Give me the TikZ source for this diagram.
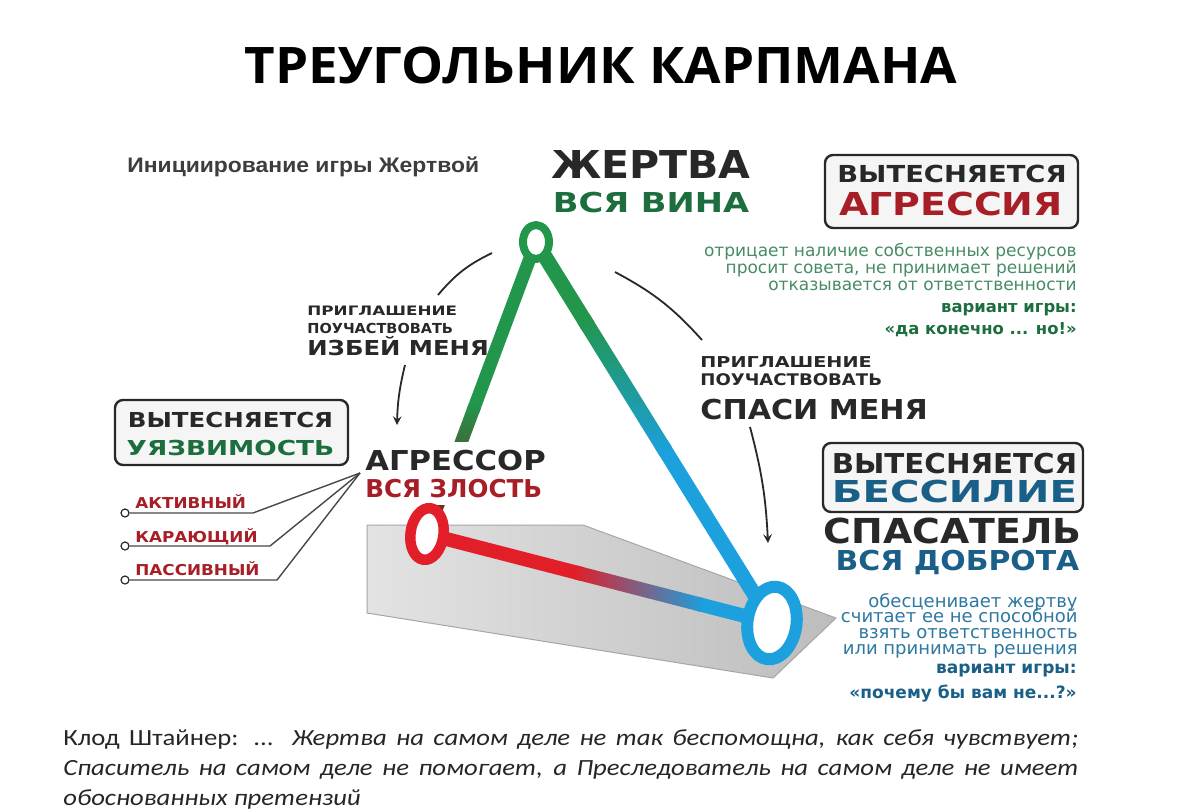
\documentclass[tikz,border=0pt]{standalone}
\usepackage{fontspec}
\setmainfont{DejaVu Sans}
\newfontfamily\headfont{DejaVu Sans}
\newfontfamily\titlefont{Open Sans}
\newfontfamily\labelfont{Liberation Sans}
\newfontfamily\quotefont[FakeStretch=1.15]{Carlito}
\usetikzlibrary{calc,shapes.geometric}

\definecolor{kgreen}{RGB}{34,150,74}
\definecolor{kdgreen}{RGB}{28,110,62}
\definecolor{ktgreen}{RGB}{72,140,100}
\definecolor{kred}{RGB}{226,30,40}
\definecolor{kdred}{RGB}{168,30,38}
\definecolor{kblue}{RGB}{28,160,222}
\definecolor{kdblue}{RGB}{25,95,135}
\definecolor{ktblue}{RGB}{45,120,160}
\definecolor{kgray}{RGB}{40,40,40}

% thick band between two points, #3 = half width
\newcommand\bandpart[4]{%
  \path[#4] ($(#1)!#3!90:(#2)$) -- ($(#1)!#3!-90:(#2)$)
    -- ($(#2)!#3!90:(#1)$) -- ($(#2)!#3!-90:(#1)$) -- cycle;}

\tikzset{
  hd/.style 2 args={inner sep=0pt, text=kgray,
    font=\headfont\bfseries\fontsize{#1}{#1}\selectfont\addfontfeature{FakeStretch=#2}},
  desc/.style={inner sep=0pt, anchor=base east, font=\headfont\fontsize{#1}{#1}\selectfont},
  descb/.style={inner sep=0pt, anchor=base east, font=\headfont\bfseries\fontsize{#1}{#1}\selectfont},
  pushbox/.style={draw=kgray, line width=1.2pt, rounded corners=4pt, fill=gray!8, inner sep=0pt},
  ring/.style={ellipse, fill=white, inner sep=0pt},
  arc/.style={draw=kgray, line width=0.9pt},
  leader/.style={draw=kgray!85, line width=0.7pt},
  dot/.style={circle, draw=kgray, line width=0.6pt, fill=white, inner sep=0pt, minimum size=4pt},
  quote/.style={inner sep=0pt, anchor=base west, text=black!85,
    font=\quotefont\fontsize{11.6}{15}\selectfont}
}

\begin{document}
\begin{tikzpicture}[x=0.5pt, y=-0.5pt, >=stealth, line join=round]
\fill[white] (0,0) rectangle (1200,810);

% title
\node[inner sep=0pt, anchor=base,
  font=\titlefont\bfseries\fontsize{25.2}{30}\selectfont\addfontfeature{FakeStretch=1.05}] (title) at (601,83) {ТРЕУГОЛЬНИК КАРПМАНА};
\node[inner sep=0pt, anchor=base west, text=kgray!90,
  font=\labelfont\bfseries\fontsize{10.5}{12}\selectfont\addfontfeature{FakeStretch=1.09}] (init) at (127,172) {Инициирование игры Жертвой};

% platform
\path[draw=gray!70, line width=0.5pt, left color=gray!22, right color=gray!52]
  (367,525) -- (583,525) -- (836,618) -- (773,678) -- (367,613) -- cycle;

% corners of the triangle
\coordinate (T) at (536,242);
\coordinate (R) at (427,534);
\coordinate (B) at (772,623);
\coordinate (tr1) at ($(T)!0.58!(R)$);
\coordinate (tr2) at ($(T)!0.56!(R)$);
\coordinate (tb1) at ($(T)!0.22!(B)$);
\coordinate (tb2) at ($(T)!0.20!(B)$);
\coordinate (tb3) at ($(T)!0.53!(B)$);
\coordinate (tb4) at ($(T)!0.55!(B)$);
\coordinate (rb1) at ($(R)!0.45!(B)$);
\coordinate (rb2) at ($(R)!0.43!(B)$);
\coordinate (rb3) at ($(R)!0.78!(B)$);
\coordinate (rb4) at ($(R)!0.80!(B)$);

\bandpart{T}{tr1}{3.25pt}{fill=kgreen}
\bandpart{tr2}{R}{3.25pt}{top color=kgreen, bottom color=kred!55!black}
\bandpart{T}{tb1}{3.75pt}{fill=kgreen}
\bandpart{tb3}{B}{3.75pt}{fill=kblue}
\bandpart{tb2}{tb4}{3.75pt}{top color=kgreen, bottom color=kblue}
\bandpart{R}{rb1}{3.5pt}{fill=kred}
\bandpart{rb3}{B}{3.5pt}{fill=kblue}
\bandpart{rb2}{rb4}{3.5pt}{left color=kred, right color=kblue}

% victim
\node[hd={19.2}{1.07}, anchor=base] (victim) at (651,178) {ЖЕРТВА};
\node[hd={13.7}{1.23}, anchor=base, text=kdgreen] (victimsub) at (651,212) {ВСЯ ВИНА};

\node[pushbox, minimum width=126.5pt, minimum height=36.5pt] (boxagr) at (951.5,191.5) {};
\node[hd={11.7}{1.17}, anchor=base] (agr1) at (952,182) {ВЫТЕСНЯЕТСЯ};
\node[hd={15.8}{1.2}, anchor=base, text=kdred] (agr2) at (951,215) {АГРЕССИЯ};

\node[desc=8.5, text=ktgreen] (vd1) at (1077,256) {отрицает наличие собственных ресурсов};
\node[desc=8.5, text=ktgreen] (vd2) at (1077,273) {просит совета, не принимает решений};
\node[desc=8.5, text=ktgreen] (vd3) at (1077,290) {отказывается от ответственности};
\node[descb=8.2, text=kdgreen] (vg1) at (1077,312) {вариант игры:};
\node[descb=8.2, text=kdgreen] (vg2) at (1077,334) {«да конечно ... но!»};

% invitations
\node[hd={6.5}{1.29}, anchor=base west] (inv1) at (307,315) {ПРИГЛАШЕНИЕ};
\node[hd={6.9}{1.05}, anchor=base west] (inv2) at (307,333) {ПОУЧАСТВОВАТЬ};
\node[hd={10.3}{1.18}, anchor=base west] (inv3) at (307,355) {ИЗБЕЙ МЕНЯ};
\node[hd={7.5}{1.28}, anchor=base west] (ask1) at (700,367) {ПРИГЛАШЕНИЕ};
\node[hd={8}{1.13}, anchor=base west] (ask2) at (700,385) {ПОУЧАСТВОВАТЬ};
\node[hd={13.7}{1.10}, anchor=base west] (ask3) at (700,419) {СПАСИ МЕНЯ};

\coordinate (l1) at (492,253);
\coordinate (l2) at (438,295);
\coordinate (l3) at (405,365);
\coordinate (l4) at (397,425);
\draw[arc] (l1) to[bend right=12] (l2);
\draw[arc,->] (l3) to[bend right=6] (l4);
\coordinate (r1) at (615,272);
\coordinate (r2) at (702,340);
\coordinate (r3) at (750,427);
\coordinate (r4) at (768,543);
\draw[arc] (r1) to[bend left=10] (r2);
\draw[arc,->] (r3) to[bend left=6] (r4);

% aggressor
\node[pushbox, minimum width=116.5pt, minimum height=32.5pt] (boxvul) at (231.5,432.5) {};
\node[hd={10.3}{1.19}, anchor=base] (vul1) at (230.5,427) {ВЫТЕСНЯЕТСЯ};
\node[hd={10.3}{1.28}, anchor=base, text=kdgreen] (vul2) at (230.5,455) {УЯЗВИМОСТЬ};

\node[hd={13.7}{1.12}, anchor=base west, fill=white, inner ysep=4pt] (aggr) at (365,470) {АГРЕССОР};
\node[hd={12.3}{1.0}, anchor=base west, fill=white, inner ysep=4pt, text=kdred] (aggrsub) at (365,497) {ВСЯ ЗЛОСТЬ};

\node[hd={7.5}{1.12}, anchor=base west, text=kdred] (lab1) at (135,508) {АКТИВНЫЙ};
\node[hd={7.5}{1.12}, anchor=base west, text=kdred] (lab2) at (135,542) {КАРАЮЩИЙ};
\node[hd={7.5}{1.12}, anchor=base west, text=kdred] (lab3) at (135,575) {ПАССИВНЫЙ};
\coordinate (hub) at (360,473);
\coordinate (k1) at (253,513);
\coordinate (k2) at (270,546);
\coordinate (k3) at (277,580);
\node[dot] (d1) at (125,513) {};
\node[dot] (d2) at (125,546) {};
\node[dot] (d3) at (125,580) {};
\draw[leader] (d1) -- (k1) -- (hub);
\draw[leader] (d2) -- (k2) -- (hub);
\draw[leader] (d3) -- (k3) -- (hub);

% rescuer
\node[pushbox, minimum width=130pt, minimum height=34.5pt] (boxpow) at (953,477.5) {};
\node[hd={13.7}{1.07}, anchor=base] (pow1) at (954.5,473) {ВЫТЕСНЯЕТСЯ};
\node[hd={15.1}{1.33}, anchor=base, text=kdblue] (pow2) at (954.5,502) {БЕССИЛИЕ};
\node[hd={17.2}{1.1}, anchor=base] (resc) at (952.5,543) {СПАСАТЕЛЬ};
\node[hd={13.7}{1.09}, anchor=base, text=kdblue] (rescsub) at (957.5,570) {ВСЯ ДОБРОТА};

\node[desc=9, text=ktblue] (sd1) at (1078,607) {обесценивает жертву};
\node[desc=9, text=ktblue] (sd2) at (1078,622) {считает ее не способной};
\node[desc=9, text=ktblue] (sd3) at (1078,638) {взять ответственность};
\node[desc=9, text=ktblue] (sd4) at (1078,654) {или принимать решения};
\node[descb=8.5, text=kdblue] (sg1) at (1077,673) {вариант игры:};
\node[descb=8.5, text=kdblue] (sg2) at (1077,698) {«почему бы вам не...?»};

% rings on top
\node[ring, draw=kgreen, line width=4pt, minimum width=13pt, minimum height=17pt] (Tring) at (T) {};
\node[ring, draw=kred, line width=5.25pt, minimum width=16.5pt, minimum height=26pt, rotate=-8] (Rring) at (R) {};
\node[ring, draw=kblue, line width=6pt, minimum width=24.5pt, minimum height=36.5pt, rotate=-8] (Bring) at (B) {};

% quote
\node[quote] (q1) at (63,745) {\makebox[507.5pt][s]{Клод Штайнер: ... \itshape Жертва на самом деле не так беспомощна, как себя чувствует;}};
\node[quote] (q2) at (63,775) {\makebox[507.5pt][s]{\itshape Спаситель на самом деле не помогает, а Преследователь на самом деле не имеет}};
\node[quote] (q3) at (63,805) {\itshape обоснованных претензий};
\end{tikzpicture}
\end{document}
